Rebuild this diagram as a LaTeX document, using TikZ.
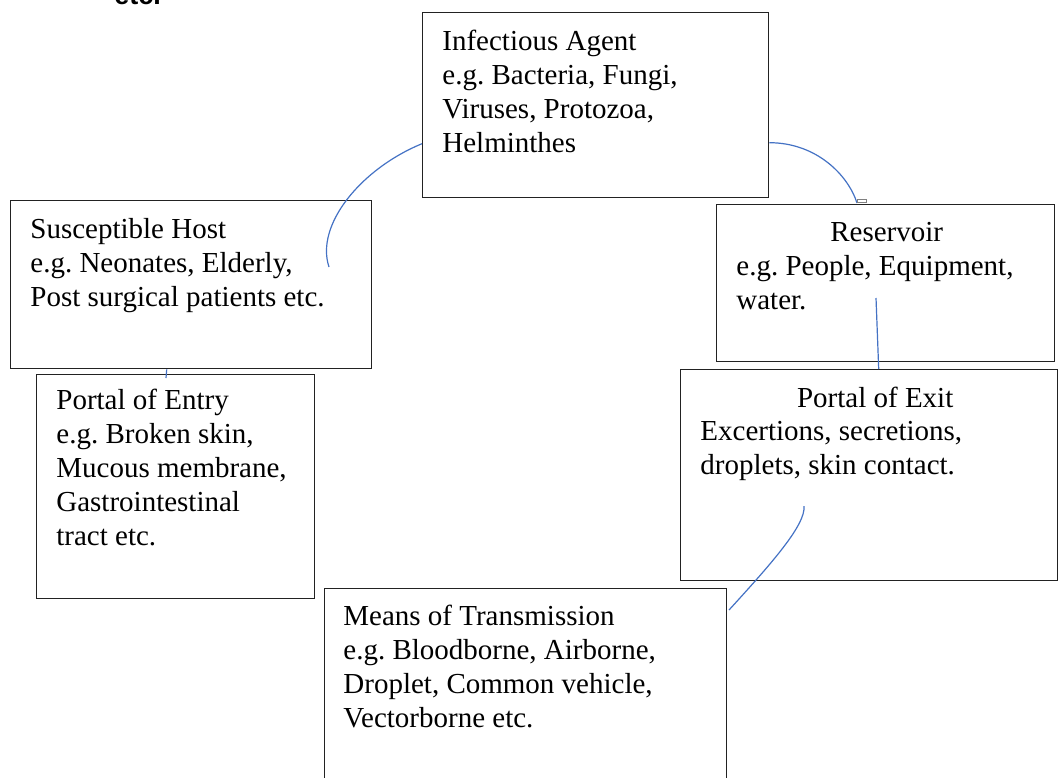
\documentclass[tikz,border=0pt]{standalone}
\usepackage{fontspec}
\setmainfont{Liberation Serif}
\newfontfamily\fragsans{Liberation Sans}
\usepackage{xcolor}
\usepackage{tikz}
\usetikzlibrary{positioning}
\frenchspacing
\definecolor{linkblue}{HTML}{4472C4}
\definecolor{boxline}{HTML}{222222}
\tikzset{
  box/.style={draw=boxline, line width=0.7pt, anchor=north west, inner sep=0pt},
  txt/.style={anchor=base west, align=left, inner sep=0pt, font=\fontsize{14.5}{17}\selectfont},
  head/.style={anchor=base, inner sep=0pt, font=\fontsize{14.5}{17}\selectfont},
  link/.style={draw=linkblue, line width=0.6pt}
}

\begin{document}
\begin{tikzpicture}[x=0.5pt, y=-0.5pt]
\useasboundingbox (0,0) rectangle (1058,777);

% cut-off text at the top of the page
\node[anchor=base west, inner sep=0pt, font=\fragsans\bfseries\fontsize{13.5}{15}\selectfont] (etcfrag) at (114,4) {etc.};

% boxes
\node[box, minimum width=173pt, minimum height=92.5pt] (agent) at (422,12) {};
\node[box, minimum width=180.5pt, minimum height=84pt] (host) at (10,200) {};
\node[box, minimum width=169pt, minimum height=78.5pt] (reservoir) at (716,204) {};
\node[box, minimum width=188.5pt, minimum height=105.5pt] (exit) at (680,369) {};
\node[box, minimum width=139pt, minimum height=112pt] (entry) at (36,374) {};
\node[box, minimum width=201pt, minimum height=110pt] (means) at (324,588) {};

% texts (base = last line)
\node[txt] (agenttxt) at ([shift={(20,140)}]agent.north west) {Infectious Agent\\e.g. Bacteria, Fungi,\\Viruses, Protozoa,\\Helminthes};
\node[txt] (hosttxt) at ([shift={(20,106)}]host.north west) {Susceptible Host\\e.g. Neonates, Elderly,\\Post surgical patients etc.};
\node[head] (reshead) at ([shift={(1,37)}]reservoir.north) {Reservoir};
\node[txt] (restxt) at ([shift={(20,105)}]reservoir.north west) {e.g. People, Equipment,\\water.};
\node[head] (exithead) at ([shift={(6,38)}]exit.north) {Portal of Exit};
\node[txt] (exittxt) at ([shift={(20,105)}]exit.north west) {Excertions, secretions,\\droplets, skin contact.};
\node[txt] (entrytxt) at ([shift={(20,171)}]entry.north west) {Portal of Entry\\e.g. Broken skin,\\Mucous membrane,\\Gastrointestinal\\tract etc.};
\node[txt] (meanstxt) at ([shift={(19,139)}]means.north west) {Means of Transmission\\e.g. Bloodborne, Airborne,\\Droplet, Common vehicle,\\Vectorborne etc.};

% free ends of the connectors
\coordinate (hostend) at (329,267);
\coordinate (restip) at (857,203);
\coordinate (entrytick) at (166,378);
\coordinate (resmark) at (876,298);
\coordinate (exitmark) at (804,506);
\coordinate (meansend) at (729,610);

% connectors
\draw[link] ([yshift=-19.25pt]agent.west) .. controls +(-61,25) and +(-14,-42) .. (hostend);
\draw[link] ([yshift=-18.75pt]agent.east) .. controls +(47,0) and +(-9,-28) .. (restip);
\node[draw=gray, line width=0.4pt, fill=white, minimum width=4.5pt, minimum height=1.5pt, inner sep=0pt, anchor=south west] (tipmark) at (restip) {};
\draw[link] ([xshift=-12.25pt]host.south) -- (entrytick);
\draw[link] (resmark) -- ([xshift=4.75pt]exit.north);
\draw[link] (exitmark) .. controls +(2,19) and +(41,-45) .. (meansend);
\end{tikzpicture}
\end{document}
